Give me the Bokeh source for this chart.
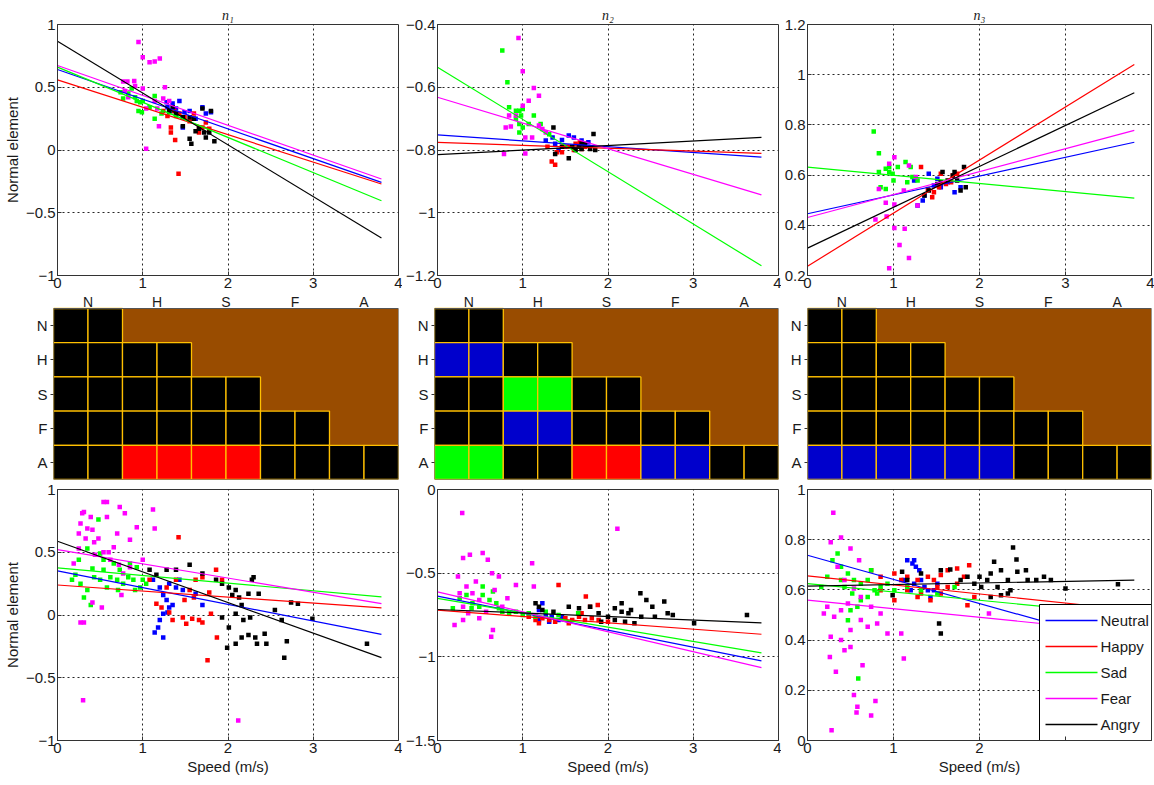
from bokeh.plotting import figure
from bokeh.layouts import column, row
from bokeh.models import FixedTicker, Range1d, CustomJSTickFormatter
from bokeh.core.properties import value
from bokeh.embed import file_html
from bokeh.resources import INLINE

FONT = "Liberation Sans"
EMOTIONS = ["Neutral", "Happy", "Sad", "Fear", "Angry"]
COLORS = {"Neutral": "#0000FF", "Happy": "#FF0000", "Sad": "#00FF00",
          "Fear": "#FF00FF", "Angry": "#000000"}

# ---------------- top row (per-emotion speeds and normal elements) ----------------
T1_X = {
    "Neutral": [1.28, 1.35, 1.43, 1.55, 1.70, 1.74, 1.49, 1.39, 1.47, 1.62, 1.33, 1.80, 1.29],
    "Happy": [1.42, 1.38, 1.33, 1.33, 1.43, 1.49, 1.55, 1.66, 1.70, 1.60, 1.74, 1.37, 1.24, 1.29, 1.78, 1.66],
    "Sad": [0.77, 0.83, 0.87, 0.93, 0.95, 0.99, 0.97, 1.14, 1.22, 1.14, 1.08, 1.31, 1.39, 0.91, 1.00, 0.74],
    "Fear": [0.95, 1.00, 1.08, 1.14, 1.20, 1.26, 0.77, 0.82, 0.79, 1.00, 1.04, 1.04, 1.19, 1.24, 1.17, 0.91, 0.83, 1.31, 1.14, 0.90],
    "Angry": [1.35, 1.39, 1.47, 1.55, 1.60, 1.66, 1.72, 1.74, 1.80, 1.70, 1.84, 1.57, 1.55, 1.47, 1.62, 1.78, 1.31],
}
T1_Y = {
    "Neutral": [0.38, 0.37, 0.39, 0.31, 0.34, 0.29, 0.30, 0.33, 0.18, 0.25, 0.31, 0.30, 0.34],
    "Happy": [-0.19, 0.08, 0.14, 0.18, 0.29, 0.26, 0.23, 0.14, 0.18, 0.29, 0.22, 0.31, 0.31, 0.27, 0.17, 0.18],
    "Sad": [0.41, 0.45, 0.49, 0.39, 0.31, 0.30, 0.38, 0.43, 0.29, 0.25, 0.34, 0.30, 0.27, 0.42, 0.39, 0.46],
    "Fear": [0.86, 0.74, 0.70, 0.705, 0.73, 0.50, 0.545, 0.545, 0.47, 0.49, 0.33, 0.01, 0.19, 0.41, 0.33, 0.51, 0.42, 0.39, 0.39, 0.55],
    "Angry": [0.34, 0.29, 0.26, 0.26, 0.25, 0.17, 0.14, 0.10, 0.31, 0.33, 0.07, 0.05, 0.09, 0.19, 0.15, 0.14, 0.31],
}
T2_X = {
    "Neutral": [1.27, 1.35, 1.38, 1.46, 1.54, 1.60, 1.69, 1.66, 1.52, 1.42, 1.77],
    "Happy": [1.34, 1.38, 1.29, 1.40, 1.46, 1.54, 1.62, 1.67, 1.73, 1.60, 1.69, 1.48],
    "Sad": [0.76, 0.82, 0.84, 0.92, 0.96, 1.00, 0.98, 0.96, 1.00, 0.96, 1.13, 1.21, 0.92, 1.07, 1.31],
    "Fear": [0.95, 1.00, 1.13, 1.19, 1.07, 1.00, 0.84, 0.86, 0.80, 0.78, 1.03, 1.03, 1.11, 1.19, 1.23, 1.27, 0.92],
    "Angry": [1.36, 1.83, 1.54, 1.38, 1.46, 1.58, 1.66, 1.69, 1.73, 1.79, 1.85, 1.62, 1.69],
}
T2_Y = {
    "Neutral": [-0.77, -0.76, -0.78, -0.768, -0.754, -0.76, -0.77, -0.786, -0.79, -0.80, -0.775],
    "Happy": [-0.837, -0.847, -0.79, -0.807, -0.807, -0.79, -0.78, -0.776, -0.79, -0.80, -0.797, -0.79],
    "Sad": [-0.483, -0.584, -0.664, -0.675, -0.675, -0.669, -0.69, -0.717, -0.728, -0.744, -0.69, -0.717, -0.70, -0.717, -0.75],
    "Fear": [-0.443, -0.549, -0.602, -0.627, -0.643, -0.659, -0.69, -0.725, -0.728, -0.813, -0.811, -0.76, -0.76, -0.722, -0.733, -0.744, -0.69],
    "Angry": [-0.728, -0.749, -0.826, -0.813, -0.79, -0.79, -0.79, -0.797, -0.78, -0.797, -0.80, -0.80, -0.78],
}
T3_X = {
    "Neutral": [1.24, 1.28, 1.34, 1.41, 1.47, 1.55, 1.71, 1.78, 1.63, 1.51, 1.36],
    "Happy": [1.32, 1.45, 1.53, 1.61, 1.69, 1.74, 1.55, 1.40, 1.47, 1.67],
    "Sad": [0.77, 0.83, 0.83, 0.91, 0.95, 0.99, 1.05, 1.14, 1.20, 1.22, 1.28, 0.91, 0.85, 1.00, 1.16, 0.95],
    "Fear": [0.95, 1.07, 1.13, 1.01, 0.79, 0.92, 1.18, 1.01, 1.18, 0.83, 0.91, 1.01, 1.28, 1.12, 1.26, 0.95],
    "Angry": [1.36, 1.41, 1.55, 1.63, 1.69, 1.74, 1.82, 1.84, 1.78, 1.51, 1.71, 1.57],
}
T3_Y = {
    "Neutral": [0.578, 0.479, 0.499, 0.605, 0.559, 0.552, 0.532, 0.552, 0.572, 0.585, 0.519],
    "Happy": [0.632, 0.512, 0.552, 0.565, 0.598, 0.605, 0.605, 0.545, 0.532, 0.572],
    "Sad": [0.774, 0.687, 0.612, 0.625, 0.612, 0.605, 0.632, 0.652, 0.632, 0.592, 0.578, 0.545, 0.552, 0.578, 0.572, 0.632],
    "Fear": [0.229, 0.322, 0.386, 0.389, 0.423, 0.435, 0.27, 0.671, 0.638, 0.545, 0.49, 0.483, 0.479, 0.539, 0.592, 0.645],
    "Angry": [0.519, 0.539, 0.572, 0.578, 0.598, 0.578, 0.632, 0.552, 0.539, 0.565, 0.612, 0.612],
}

# ---------------- bottom row ----------------
B1_X = {
    "Neutral": [1.12, 1.20, 1.24, 1.28, 1.31, 1.24, 1.20, 1.18, 1.14, 1.24, 1.31, 1.39, 1.47, 1.62, 1.70, 1.35, 1.29, 1.43],
    "Happy": [1.42, 1.16, 1.22, 1.31, 1.35, 1.47, 1.51, 1.58, 1.66, 1.70, 1.76, 1.87, 1.80, 1.55, 1.62, 1.70, 1.86, 1.93, 1.39, 1.28, 1.49, 1.78, 1.08, 1.60],
    "Sad": [0.17, 0.21, 0.27, 0.35, 0.31, 0.39, 0.43, 0.50, 0.54, 0.62, 0.66, 0.70, 0.77, 0.83, 0.89, 0.97, 1.00, 1.04, 0.50, 0.54, 0.41, 0.73, 0.85, 0.93, 0.58, 0.48, 0.35, 0.25, 0.91, 0.71],
    "Fear": [0.54, 0.58, 0.31, 0.29, 0.39, 0.27, 0.35, 0.41, 0.25, 0.33, 0.43, 0.48, 0.58, 0.70, 0.79, 0.93, 1.12, 1.14, 0.73, 0.54, 0.60, 0.62, 0.72, 0.77, 0.75, 0.52, 0.41, 0.27, 0.31, 0.30, 2.12, 0.19, 0.25, 1.00, 0.85, 0.66, 0.44, 0.85],
    "Angry": [1.08, 1.16, 1.28, 1.39, 1.55, 1.70, 1.93, 2.01, 2.05, 2.13, 2.16, 2.09, 2.01, 1.99, 2.09, 2.16, 2.24, 2.32, 2.34, 2.43, 2.45, 2.55, 2.63, 2.66, 2.69, 2.74, 2.82, 2.99, 3.63, 2.30, 2.28, 2.09, 2.24, 2.36, 2.18, 2.26, 1.93, 1.86],
}
B1_Y = {
    "Neutral": [0.28, 0.22, 0.16, 0.12, 0.06, 0.01, -0.04, -0.10, -0.14, -0.18, 0.25, 0.22, 0.20, 0.17, 0.08, 0.08, 0.02, 0.28],
    "Happy": [0.62, 0.09, 0.06, 0.02, -0.04, -0.02, -0.07, -0.03, -0.04, -0.06, -0.36, -0.18, 0.01, 0.20, 0.28, 0.30, 0.36, 0.28, 0.28, 0.22, 0.12, 0.18, 0.28, 0.14],
    "Sad": [0.28, 0.32, 0.25, 0.20, 0.14, 0.08, 0.30, 0.28, 0.36, 0.30, 0.41, 0.28, 0.25, 0.30, 0.28, 0.22, 0.28, 0.25, 0.49, 0.44, 0.37, 0.36, 0.41, 0.38, 0.22, 0.76, 0.53, 0.44, 0.20, 0.20],
    "Fear": [0.90, 0.90, 0.82, 0.81, 0.78, 0.73, 0.69, 0.68, 0.65, 0.61, 0.58, 0.61, 0.78, 0.65, 0.81, 0.70, 0.84, 0.69, 0.86, 0.50, 0.50, 0.44, 0.40, 0.33, 0.16, 0.06, 0.10, -0.06, -0.06, -0.68, -0.84, 0.41, 0.53, 0.44, 0.38, 0.54, 0.48, 0.60],
    "Angry": [0.36, 0.32, 0.36, 0.36, 0.40, 0.33, 0.25, 0.22, 0.16, 0.14, 0.08, 0.01, -0.10, -0.26, -0.23, -0.18, -0.16, -0.18, -0.23, -0.15, -0.23, 0.04, -0.04, -0.34, -0.21, 0.10, 0.09, -0.03, -0.23, 0.30, 0.28, 0.20, 0.17, 0.17, -0.04, -0.02, -0.02, 0.28],
}
B2_X = {
    "Neutral": [1.23, 1.19, 1.27, 1.34, 1.42, 1.19, 1.31, 1.46],
    "Happy": [1.42, 1.74, 1.88, 1.07, 1.15, 1.23, 1.31, 1.38, 1.50, 1.58, 1.66, 1.73, 1.81, 1.89, 2.00, 1.19, 1.54, 1.69, 1.79],
    "Sad": [0.18, 0.26, 0.34, 0.41, 0.49, 0.53, 0.61, 0.69, 0.76, 0.84, 0.92, 1.00, 1.07, 1.15, 1.27, 1.42, 1.65, 0.65, 0.53, 0.40, 0.72],
    "Fear": [0.29, 2.11, 0.30, 0.38, 0.53, 0.59, 0.64, 0.72, 1.11, 1.13, 0.92, 0.24, 0.34, 0.41, 0.49, 0.30, 0.36, 0.20, 0.30, 0.65, 0.63, 0.49, 0.57, 0.76, 0.82, 0.67, 0.45, 0.26],
    "Angry": [1.15, 1.19, 1.23, 1.36, 1.54, 1.66, 1.79, 1.89, 2.00, 2.08, 2.16, 2.24, 2.27, 2.38, 2.45, 2.52, 2.66, 2.70, 2.76, 3.01, 3.63, 2.39, 2.55, 2.08, 2.20, 2.31, 1.92, 2.16],
}
B2_Y = {
    "Neutral": [-0.68, -0.72, -0.75, -0.76, -0.78, -0.78, -0.79, -0.76],
    "Happy": [-0.57, -0.64, -0.69, -0.76, -0.78, -0.77, -0.78, -0.79, -0.77, -0.78, -0.76, -0.78, -0.77, -0.78, -0.79, -0.80, -0.80, -0.74, -0.70],
    "Sad": [-0.71, -0.65, -0.63, -0.68, -0.70, -0.63, -0.66, -0.68, -0.73, -0.74, -0.73, -0.75, -0.74, -0.76, -0.73, -0.75, -0.74, -0.61, -0.58, -0.71, -0.71],
    "Fear": [-0.14, -0.235, -0.41, -0.39, -0.38, -0.42, -0.50, -0.52, -0.44, -0.58, -0.57, -0.52, -0.58, -0.62, -0.66, -0.70, -0.74, -0.81, -0.78, -0.84, -0.88, -0.77, -0.73, -0.70, -0.65, -0.60, -0.55, -0.62],
    "Angry": [-0.68, -0.70, -0.72, -0.73, -0.70, -0.71, -0.70, -0.74, -0.76, -0.71, -0.68, -0.74, -0.72, -0.62, -0.66, -0.70, -0.67, -0.74, -0.75, -0.80, -0.75, -0.76, -0.76, -0.78, -0.79, -0.80, -0.79, -0.73],
}
B3_X = {
    "Neutral": [1.16, 1.22, 1.26, 1.24, 1.30, 1.12, 1.24, 1.32, 1.40, 1.43, 1.47, 1.20, 1.36, 1.51],
    "Happy": [0.74, 0.85, 1.01, 1.09, 1.16, 1.28, 1.40, 1.47, 1.55, 1.63, 1.74, 1.88, 1.82, 1.74, 1.63, 1.55, 1.43, 1.32, 1.16, 1.01, 0.85, 1.86, 1.94, 1.28, 1.51],
    "Sad": [0.29, 0.35, 0.39, 0.47, 0.54, 0.43, 0.52, 0.62, 0.70, 0.78, 0.85, 0.93, 0.62, 0.50, 0.47, 0.58, 0.70, 0.81, 1.01, 1.16, 1.32, 1.51, 1.71, 0.59, 0.23, 0.16, 0.74, 0.39],
    "Fear": [0.30, 0.28, 0.39, 0.27, 0.50, 0.60, 0.35, 0.43, 0.54, 0.62, 0.74, 0.47, 0.39, 0.31, 0.23, 0.19, 0.27, 0.39, 0.50, 0.62, 0.70, 0.81, 0.93, 1.09, 1.12, 0.26, 0.33, 0.64, 0.54, 0.58, 0.57, 0.74, 0.79, 0.50, 0.43, 0.85, 2.11],
    "Angry": [1.10, 1.16, 1.32, 1.55, 1.66, 1.53, 1.55, 1.78, 1.86, 1.94, 2.00, 2.02, 2.09, 2.17, 2.25, 2.33, 2.39, 2.43, 2.44, 2.54, 2.56, 2.66, 2.75, 2.83, 3.00, 3.61, 2.13, 2.25, 2.33, 0.99, 2.21, 2.13, 2.36],
}
B3_Y = {
    "Neutral": [0.718, 0.705, 0.692, 0.718, 0.678, 0.639, 0.625, 0.639, 0.599, 0.572, 0.599, 0.599, 0.612, 0.625],
    "Happy": [0.678, 0.652, 0.665, 0.639, 0.652, 0.639, 0.652, 0.639, 0.659, 0.678, 0.685, 0.698, 0.652, 0.625, 0.612, 0.586, 0.559, 0.586, 0.599, 0.559, 0.599, 0.539, 0.572, 0.572, 0.612],
    "Sad": [0.718, 0.745, 0.692, 0.665, 0.639, 0.612, 0.586, 0.559, 0.572, 0.599, 0.612, 0.625, 0.625, 0.519, 0.479, 0.533, 0.639, 0.586, 0.599, 0.612, 0.599, 0.586, 0.612, 0.247, 0.652, 0.612, 0.678, 0.639],
    "Fear": [0.907, 0.041, 0.809, 0.79, 0.765, 0.718, 0.692, 0.639, 0.606, 0.572, 0.533, 0.546, 0.519, 0.493, 0.533, 0.506, 0.413, 0.40, 0.44, 0.48, 0.453, 0.466, 0.426, 0.426, 0.327, 0.333, 0.274, 0.30, 0.181, 0.134, 0.112, 0.10, 0.157, 0.373, 0.36, 0.506, 0.506],
    "Angry": [0.672, 0.639, 0.665, 0.678, 0.681, 0.466, 0.426, 0.639, 0.652, 0.625, 0.652, 0.612, 0.639, 0.712, 0.678, 0.639, 0.769, 0.721, 0.672, 0.678, 0.639, 0.639, 0.652, 0.639, 0.606, 0.623, 0.572, 0.579, 0.586, 0.579, 0.612, 0.665, 0.599],
}

# regression lines: value at speed FIT_X[0] and FIT_X[1]
FIT_X = [0.0, 3.8]
FIT_T1 = {"Neutral": [0.641, -0.258], "Happy": [0.559, -0.271], "Sad": [0.660, -0.404], "Fear": [0.673, -0.231], "Angry": [0.867, -0.702]}
FIT_T2 = {"Neutral": [-0.752, -0.823], "Happy": [-0.776, -0.811], "Sad": [-0.536, -1.169], "Fear": [-0.632, -0.943], "Angry": [-0.815, -0.760]}
FIT_T3 = {"Neutral": [0.446, 0.731], "Happy": [0.237, 1.041], "Sad": [0.632, 0.508], "Fear": [0.431, 0.778], "Angry": [0.309, 0.928]}
FIT_B1 = {"Neutral": [0.351, -0.154], "Happy": [0.239, 0.056], "Sad": [0.375, 0.144], "Fear": [0.521, 0.090], "Angry": [0.588, -0.340]}
FIT_B2 = {"Neutral": [-0.637, -1.024], "Happy": [-0.721, -0.865], "Sad": [-0.651, -0.976], "Fear": [-0.612, -1.064], "Angry": [-0.717, -0.797]}
FIT_B3 = {"Neutral": [0.738, 0.373], "Happy": [0.656, 0.519], "Sad": [0.625, 0.499], "Fear": [0.559, 0.429], "Angry": [0.615, 0.639]}

X_TICKS = [0, 1, 2, 3, 4]
T1_YTICKS = [-1, -0.5, 0, 0.5, 1]
T2_YTICKS = [-1.2, -1, -0.8, -0.6, -0.4]
T3_YTICKS = [0.2, 0.4, 0.6, 0.8, 1, 1.2]
B1_YTICKS = [-1, -0.5, 0, 0.5, 1]
B2_YTICKS = [-1.5, -1, -0.5, 0]
B3_YTICKS = [0, 0.2, 0.4, 0.6, 0.8, 1]

# significance matrices (lower triangle, 2 columns per emotion)
MAT_LABELS = ["N", "H", "S", "F", "A"]
MAT_LABEL_X = [1, 3, 5, 7, 9]
MAT_N1 = ["KK", "KKKK", "KKKKKK", "KKKKKKKK", "KKRRRRKKKK"]
MAT_N2 = ["KK", "BBKK", "KKGGKK", "KKBBKKKK", "GGKKRRBBKK"]
MAT_N3 = ["KK", "KKKK", "KKKKKK", "KKKKKKKK", "BBBBBBKKKK"]
MAT_COLORS = {"K": "#000000", "R": "#FF0000", "G": "#00FF00", "B": "#0000CC"}
BROWN = "#994C00"
GOLD = "#FFC000"

# ---------------- layout geometry ----------------
COL_W = [402, 379, 373]
COL_BL = [53, 32, 26]
COL_BR = [4, 3, 3]
ROW_H = [293, 188, 304]
TOP_BT, TOP_BB = 24, 18
BOT_BT, BOT_BB = 8, 45
MAT_TOP_PAD = 15  # px of white label strip above the matrix
MAT_LABEL_GAP = 6.5  # px from matrix top to label centre
MAT_BB = 2

FMT = CustomJSTickFormatter(code="""
var v = Math.round(tick*1000)/1000;
var s = v.toString();
return s.replace('-', '\\u2212');
""")
FMT_B3 = CustomJSTickFormatter(code="""
if (tick > 2.5) { return ''; }
var v = Math.round(tick*1000)/1000;
return v.toString();
""")


def style_axes(p):
    for ax in p.axis:
        ax.axis_line_color = "#333333"
        ax.major_tick_line_color = "#333333"
        ax.major_tick_in = 4
        ax.major_tick_out = 0
        ax.minor_tick_line_color = None
        ax.major_label_text_font = FONT
        ax.major_label_text_font_size = "15px"
        ax.major_label_text_color = "#1a1a1a"
        ax.major_label_standoff = 2
        ax.axis_label_text_font = FONT
        ax.axis_label_text_font_size = "15px"
        ax.axis_label_text_font_style = "normal"
        ax.axis_label_text_color = "#1a1a1a"
        ax.axis_label_standoff = 2
    p.outline_line_color = "#333333"
    p.outline_line_width = 1
    p.outline_line_alpha = 1


def make_scatter(ci, xd, yd, fit, yr, yticks, bt, bb, H, title=None, ylabel=None, xlabel=None, xfmt=None):
    p = figure(width=COL_W[ci], height=H, x_range=Range1d(0, 4), y_range=Range1d(*yr),
               output_backend="svg", toolbar_location=None,
               min_border_left=COL_BL[ci], min_border_right=COL_BR[ci],
               min_border_top=bt, min_border_bottom=bb,
               background_fill_color="white", border_fill_color="white")
    for e in EMOTIONS:
        n = min(len(xd[e]), len(yd[e]))
        p.scatter(xd[e][:n], yd[e][:n], marker="square", size=4.5,
                  fill_color=COLORS[e], line_color=None)
    for e in EMOTIONS:
        p.line(FIT_X, fit[e], line_color=COLORS[e], line_width=1.2)
    p.xaxis.ticker = FixedTicker(ticks=X_TICKS)
    p.yaxis.ticker = FixedTicker(ticks=yticks)
    p.xaxis.formatter = xfmt if xfmt is not None else FMT
    p.yaxis.formatter = FMT
    for g in p.grid:
        g.grid_line_color = "#000000"
        g.grid_line_dash = "2 3"
        g.grid_line_alpha = 0.85
        g.grid_line_width = 1
    style_axes(p)
    if ylabel:
        p.yaxis.axis_label = ylabel
    if xlabel:
        p.xaxis.axis_label = xlabel
    if title:
        p.title.text = title
        p.title.align = "center"
        p.title.text_font = "Liberation Serif"
        p.title.text_font_style = "italic"
        p.title.text_font_size = "14px"
        p.title.text_color = "#1a1a1a"
        p.title.standoff = 4
    return p


def add_legend(p, ci, H, bt, bb, yr):
    # legend box drawn in the lower-right corner of the frame
    fw = COL_W[ci] - COL_BL[ci] - COL_BR[ci]
    fh = H - bt - bb
    sx = 4.0 / fw
    sy = (yr[1] - yr[0]) / fh
    box_left_px, pad, glyph_w, row_h, gap, standoff = 232, 6, 52, 20, 6, 3
    box_h_px = 2 * pad + len(EMOTIONS) * row_h + (len(EMOTIONS) - 1) * gap
    p.quad(left=[box_left_px * sx], right=[4.0], bottom=[yr[0]], top=[yr[0] + box_h_px * sy],
           fill_color="white", line_color="#000000", line_width=1)
    ys = [yr[0] + (box_h_px - pad - row_h / 2 - k * (row_h + gap)) * sy for k in range(len(EMOTIONS))]
    x0 = (box_left_px + pad) * sx
    x1 = (box_left_px + pad + glyph_w) * sx
    for k, e in enumerate(EMOTIONS):
        p.segment(x0=[x0], y0=[ys[k]], x1=[x1], y1=[ys[k]], line_color=COLORS[e], line_width=1.3)
    p.text(x=[x1 + standoff * sx] * len(EMOTIONS), y=ys, text=EMOTIONS,
           text_align="left", text_baseline="middle",
           text_font=value(FONT), text_font_size="15px", text_color="#1a1a1a")


def make_matrix(ci, mat):
    n_rows = len(mat)
    frame_h = ROW_H[1] - MAT_BB
    row_px = (frame_h - MAT_TOP_PAD) / n_rows
    y_top = n_rows + MAT_TOP_PAD / row_px
    m = figure(width=COL_W[ci], height=ROW_H[1], x_range=Range1d(0, 10), y_range=Range1d(0, y_top),
               x_axis_location=None, output_backend="svg", toolbar_location=None,
               min_border_left=COL_BL[ci], min_border_right=COL_BR[ci],
               min_border_top=0, min_border_bottom=MAT_BB,
               background_fill_color="white", border_fill_color="white")
    # untested region
    m.quad(left=[0], right=[10], top=[n_rows], bottom=[0], fill_color=BROWN, line_color=None)
    left, right, top, bottom, fills = [], [], [], [], []
    for r, rowstr in enumerate(mat):
        for c, ch in enumerate(rowstr):
            left.append(c)
            right.append(c + 1)
            top.append(n_rows - r)
            bottom.append(n_rows - 1 - r)
            fills.append(MAT_COLORS[ch])
    m.quad(left=left, right=right, top=top, bottom=bottom, fill_color=fills,
           line_color=GOLD, line_width=1.3)
    # box around the matrix
    m.quad(left=[0], right=[10], top=[n_rows], bottom=[0], fill_color=None,
           line_color="#555555", line_width=1)
    # column labels on top
    m.text(x=MAT_LABEL_X, y=[n_rows + MAT_LABEL_GAP / row_px] * len(MAT_LABEL_X), text=MAT_LABELS,
           text_align="center", text_baseline="middle",
           text_font=value(FONT), text_font_size="14px", text_color="#1a1a1a")
    m.grid.visible = False
    m.yaxis.ticker = FixedTicker(ticks=[n_rows - 0.5 - i for i in range(n_rows)])
    m.yaxis.major_label_overrides = {n_rows - 0.5 - i: MAT_LABELS[i] for i in range(n_rows)}
    style_axes(m)
    m.yaxis.axis_line_color = None
    m.yaxis.major_tick_in = 0
    m.yaxis.major_tick_out = 3
    m.yaxis.major_label_standoff = 3
    m.outline_line_color = None
    return m


t1 = make_scatter(0, T1_X, T1_Y, FIT_T1, (-1, 1), T1_YTICKS, TOP_BT, TOP_BB, ROW_H[0], title="n\u2081", ylabel="Normal element")
t2 = make_scatter(1, T2_X, T2_Y, FIT_T2, (-1.2, -0.4), T2_YTICKS, TOP_BT, TOP_BB, ROW_H[0], title="n\u2082")
t3 = make_scatter(2, T3_X, T3_Y, FIT_T3, (0.2, 1.2), T3_YTICKS, TOP_BT, TOP_BB, ROW_H[0], title="n\u2083")

m1 = make_matrix(0, MAT_N1)
m2 = make_matrix(1, MAT_N2)
m3 = make_matrix(2, MAT_N3)

b1 = make_scatter(0, B1_X, B1_Y, FIT_B1, (-1, 1), B1_YTICKS, BOT_BT, BOT_BB, ROW_H[2], ylabel="Normal element", xlabel="Speed (m/s)")
b2 = make_scatter(1, B2_X, B2_Y, FIT_B2, (-1.5, 0), B2_YTICKS, BOT_BT, BOT_BB, ROW_H[2], xlabel="Speed (m/s)")
b3 = make_scatter(2, B3_X, B3_Y, FIT_B3, (0, 1), B3_YTICKS, BOT_BT, BOT_BB, ROW_H[2], xlabel="Speed (m/s)", xfmt=FMT_B3)
add_legend(b3, 2, ROW_H[2], BOT_BT, BOT_BB, (0, 1))

layout = column(row(t1, t2, t3), row(m1, m2, m3), row(b1, b2, b3))

open("out.html", "w").write(file_html(layout, INLINE))
